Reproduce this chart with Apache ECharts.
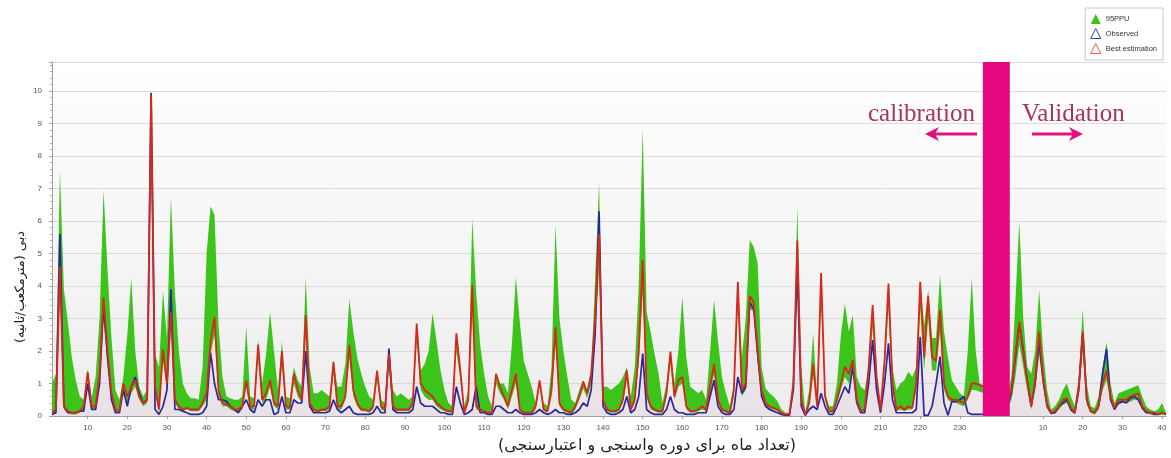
<!DOCTYPE html>
<html>
<head>
<meta charset="utf-8">
<script src="https://cdn.jsdelivr.net/npm/echarts@6/dist/echarts.min.js"></script>
<style>
  html, body { margin: 0; padding: 0; background: #ffffff; }
  #chart { width: 1171px; height: 458px; }
</style>
</head>
<body>
<div id="chart"></div>
<script>
// Monthly discharge (m3/s), calibration period: months 1..236
const calibUpper = [
  1.0, 1.3, 7.55, 3.9, 2.9, 1.8, 1.1, 0.6, 0.5, 1.45,
  0.55, 1.2, 3.0, 6.95, 4.5, 2.4, 0.8, 0.5, 1.2, 2.5,
  4.25, 2.0, 0.9, 0.6, 0.8, 9.95, 1.9, 1.5, 3.85, 2.4,
  6.75, 3.8, 2.0, 1.0, 0.7, 0.55, 0.55, 0.5, 1.5, 5.0,
  6.45, 6.2, 2.8, 1.2, 0.6, 0.55, 0.5, 0.5, 0.6, 2.75,
  0.6, 0.55, 2.35, 1.0, 1.9, 3.2, 2.0, 0.8, 2.3, 0.6,
  0.55, 1.5, 1.1, 0.9, 4.25, 1.5, 0.7, 0.7, 0.8, 0.7,
  0.6, 1.7, 0.9, 0.9, 1.6, 3.6, 2.6, 1.8, 1.3, 0.9,
  0.6, 0.5, 1.4, 0.5, 0.4, 2.1, 0.8, 0.6, 0.7, 0.6,
  0.5, 0.6, 2.85, 1.4, 1.6, 2.0, 3.16, 2.3, 1.4, 0.8,
  0.4, 0.3, 2.55, 1.4, 0.3, 0.8, 6.08, 3.8, 2.2, 1.3,
  0.6, 0.3, 1.3, 1.0, 1.0, 0.7, 2.2, 4.28, 2.9, 1.7,
  1.3, 0.9, 0.4, 1.1, 0.4, 0.3, 1.5, 5.88, 3.0, 2.0,
  1.2, 0.5, 0.4, 0.8, 1.1, 0.8, 1.4, 4.2, 7.2, 0.9,
  0.9, 0.8, 0.9, 1.0, 1.2, 1.5, 0.6, 1.5, 4.0, 8.85,
  3.2, 2.6, 1.9, 1.3, 0.4, 1.0, 2.0, 1.0, 2.0, 3.67,
  1.8, 0.9, 0.8, 0.7, 0.8, 0.5, 2.0, 3.57, 2.3, 1.2,
  0.7, 0.3, 1.0, 4.13, 1.8, 3.0, 5.42, 5.2, 4.7, 1.5,
  0.85, 0.7, 0.6, 0.45, 0.2, 0.1, 0.1, 1.2, 6.44, 1.5,
  0.1, 0.8, 2.55, 0.5, 4.4, 0.7, 0.3, 0.3, 1.0, 2.5,
  3.46, 2.6, 3.1, 1.2, 0.9, 0.8, 1.5, 3.42, 1.3, 0.3,
  1.8, 4.1, 1.5, 0.8, 1.0, 1.1, 1.36, 1.2, 1.5, 4.13,
  2.8, 3.88, 2.4, 2.4, 4.34, 2.6, 1.8, 1.1, 0.9, 0.7,
  0.6, 2.0, 4.24, 2.0, 1.0, 0.95
];
const calibLower = [
  0.05, 0.1, 3.8, 0.2, 0.1, 0.05, 0.05, 0.1, 0.2, 1.1,
  0.2, 0.2, 1.0, 3.0, 1.6, 0.5, 0.1, 0.1, 0.8, 0.4,
  0.7, 0.9, 0.5, 0.3, 0.4, 8.2, 0.7, 0.1, 1.7, 0.8,
  2.7, 0.4, 0.2, 0.15, 0.2, 0.15, 0.15, 0.15, 0.3, 0.5,
  1.9, 2.5, 0.6, 0.3, 0.3, 0.2, 0.15, 0.15, 0.2, 0.9,
  0.2, 0.2, 1.8, 0.4, 0.5, 0.9, 0.3, 0.2, 1.6, 0.2,
  0.2, 1.0, 0.6, 0.4, 2.5, 0.3, 0.15, 0.1, 0.15, 0.15,
  0.2, 1.3, 0.2, 0.2, 0.5, 1.8, 0.6, 0.3, 0.15, 0.15,
  0.1, 0.2, 1.1, 0.2, 0.15, 1.5, 0.2, 0.15, 0.15, 0.15,
  0.15, 0.3, 2.3, 0.8, 0.6, 0.5, 0.5, 0.3, 0.2, 0.15,
  0.1, 0.1, 2.0, 1.1, 0.05, 0.4, 3.2, 0.2, 0.15, 0.1,
  0.05, 0.05, 1.0, 0.7, 0.5, 0.2, 0.6, 1.0, 0.15, 0.05,
  0.05, 0.05, 0.2, 0.9, 0.15, 0.1, 0.6, 2.2, 0.3, 0.15,
  0.1, 0.05, 0.2, 0.5, 0.85, 0.55, 1.0, 2.4, 4.5, 0.4,
  0.15, 0.1, 0.1, 0.15, 0.4, 1.1, 0.15, 0.4, 1.6, 3.8,
  0.55, 0.2, 0.15, 0.1, 0.1, 0.55, 1.6, 0.5, 0.9, 1.0,
  0.2, 0.1, 0.1, 0.15, 0.2, 0.15, 0.7, 1.3, 0.4, 0.15,
  0.1, 0.05, 0.6, 3.3, 0.6, 0.8, 3.3, 3.2, 1.6, 0.6,
  0.3, 0.2, 0.2, 0.15, 0.05, 0.02, 0.02, 0.8, 4.3, 0.4,
  0.02, 0.3, 1.3, 0.2, 3.5, 0.5, 0.1, 0.1, 0.4, 0.8,
  1.2, 1.0, 1.4, 0.4, 0.1, 0.15, 1.2, 2.7, 1.0, 0.15,
  1.4, 3.3, 0.8, 0.15, 0.2, 0.15, 0.2, 0.2, 0.8, 3.3,
  1.4, 3.0, 1.4, 1.4, 2.6, 0.8, 0.5, 0.4, 0.4, 0.35,
  0.3, 0.5, 0.8, 0.8, 0.75, 0.7
];
const calibObserved = [
  0.05, 0.1, 5.6, 0.3, 0.1, 0.1, 0.1, 0.15, 0.15, 1.0,
  0.2, 0.2, 1.0, 3.4, 1.8, 0.5, 0.1, 0.1, 0.8, 0.3,
  0.9, 1.2, 0.7, 0.4, 0.5, 9.95, 0.2, 0.05, 0.3, 0.8,
  3.9, 0.2, 0.2, 0.15, 0.1, 0.05, 0.05, 0.05, 0.1, 0.3,
  1.95, 1.0, 0.5, 0.5, 0.45, 0.3, 0.2, 0.1, 0.3, 0.5,
  0.2, 0.1, 0.5, 0.3, 0.5, 0.5, 0.05, 0.1, 0.6, 0.1,
  0.1, 0.5, 0.4, 0.4, 2.0, 0.3, 0.1, 0.1, 0.1, 0.1,
  0.15, 0.5, 0.2, 0.1, 0.2, 0.3, 0.1, 0.05, 0.05, 0.05,
  0.05, 0.1, 0.3, 0.1, 0.1, 2.08, 0.2, 0.1, 0.1, 0.1,
  0.1, 0.2, 0.9, 0.4, 0.3, 0.3, 0.3, 0.2, 0.1, 0.1,
  0.05, 0.05, 0.9, 0.4, 0.05, 0.1, 0.2, 0.9, 0.1, 0.1,
  0.05, 0.05, 0.3, 0.3, 0.2, 0.1, 0.1, 0.2, 0.1, 0.05,
  0.05, 0.05, 0.1, 0.2, 0.1, 0.05, 0.1, 0.2, 0.1, 0.1,
  0.05, 0.05, 0.1, 0.2, 0.4, 0.3, 0.8, 2.5, 6.3, 0.3,
  0.1, 0.05, 0.05, 0.1, 0.2, 0.6, 0.1, 0.2, 0.6, 1.92,
  0.2, 0.1, 0.05, 0.05, 0.05, 0.2, 0.6, 0.2, 0.1, 0.1,
  0.05, 0.05, 0.05, 0.1, 0.1, 0.1, 0.6, 1.1, 0.3, 0.1,
  0.05, 0.05, 0.2, 1.2, 0.7, 0.9, 3.5, 3.3, 1.9, 0.6,
  0.3, 0.2, 0.15, 0.1, 0.05, 0.02, 0.02, 0.8, 4.6, 0.3,
  0.02, 0.2, 0.3, 0.2, 0.7, 0.3, 0.05, 0.05, 0.3, 0.6,
  0.9, 0.7, 1.52, 0.4, 0.1, 0.1, 1.0, 2.34, 0.8, 0.1,
  1.0, 2.24, 0.5, 0.1, 0.1, 0.1, 0.1, 0.1, 0.2, 2.44,
  0.02, 0.02, 0.3, 1.0, 1.83, 0.4, 0.02, 0.45, 0.45, 0.5,
  0.6, 0.1, 0.05, 0.05, 0.05, 0.05
];
const calibBest = [
  0.1, 0.2, 4.6, 0.3, 0.15, 0.1, 0.1, 0.15, 0.3, 1.35,
  0.3, 0.3, 1.3, 3.65, 2.0, 0.7, 0.2, 0.15, 1.0, 0.6,
  0.9, 1.1, 0.6, 0.4, 0.5, 9.9, 0.9, 0.2, 2.05, 1.0,
  3.2, 0.5, 0.3, 0.2, 0.25, 0.2, 0.2, 0.2, 0.4, 0.7,
  2.3, 3.05, 0.8, 0.4, 0.35, 0.3, 0.2, 0.2, 0.3, 1.1,
  0.3, 0.3, 2.2, 0.5, 0.7, 1.1, 0.4, 0.3, 2.0, 0.3,
  0.25, 1.3, 0.8, 0.5, 3.1, 0.4, 0.2, 0.15, 0.2, 0.2,
  0.3, 1.67, 0.3, 0.3, 0.6, 2.2, 0.8, 0.4, 0.2, 0.2,
  0.15, 0.3, 1.4, 0.3, 0.2, 1.9, 0.3, 0.2, 0.2, 0.2,
  0.2, 0.4, 2.85, 1.0, 0.8, 0.7, 0.6, 0.4, 0.3, 0.2,
  0.15, 0.15, 2.55, 1.4, 0.1, 0.5, 4.03, 0.3, 0.2, 0.15,
  0.1, 0.1, 1.3, 0.9, 0.6, 0.3, 0.8, 1.3, 0.2, 0.1,
  0.1, 0.1, 0.3, 1.1, 0.2, 0.15, 0.8, 2.74, 0.4, 0.2,
  0.15, 0.1, 0.3, 0.6, 1.06, 0.7, 1.3, 3.0, 5.6, 0.5,
  0.2, 0.15, 0.15, 0.2, 0.5, 1.4, 0.2, 0.5, 2.0, 4.8,
  0.7, 0.3, 0.2, 0.15, 0.15, 0.7, 1.98, 0.6, 1.1, 1.2,
  0.3, 0.15, 0.15, 0.2, 0.3, 0.2, 0.9, 1.6, 0.5, 0.2,
  0.15, 0.1, 0.8, 4.13, 0.8, 1.0, 3.7, 3.5, 2.0, 0.8,
  0.4, 0.3, 0.25, 0.2, 0.1, 0.05, 0.05, 1.0, 5.4, 0.5,
  0.05, 0.4, 1.6, 0.3, 4.4, 0.6, 0.15, 0.15, 0.5, 1.0,
  1.52, 1.3, 1.72, 0.5, 0.15, 0.2, 1.5, 3.42, 1.2, 0.18,
  1.7, 4.08, 1.0, 0.2, 0.3, 0.2, 0.3, 0.25, 1.0, 4.13,
  1.8, 3.7, 1.8, 1.7, 3.26, 1.0, 0.6, 0.5, 0.5, 0.45,
  0.4, 0.6, 1.0, 1.0, 0.95, 0.9
];

// Validation period: months 1..41
const validUpper = [
  0.6, 1.2, 3.5, 5.98, 3.0, 1.5, 1.3, 2.0, 3.88, 2.0,
  0.8, 0.2, 0.3, 0.5, 0.8, 1.0, 0.6, 0.3, 1.2, 3.3,
  1.0, 0.3, 0.25, 0.6, 1.5, 2.28, 1.0, 0.4, 0.7, 0.75,
  0.8, 0.85, 0.9, 0.95, 0.6, 0.3, 0.2, 0.15, 0.2, 0.4,
  0.1
];
const validLower = [
  0.2, 0.5, 1.2, 2.2, 1.5, 0.8, 0.2, 0.8, 1.9, 0.9,
  0.25, 0.05, 0.1, 0.2, 0.35, 0.4, 0.15, 0.05, 0.7, 2.0,
  0.35, 0.1, 0.05, 0.2, 0.8, 1.1, 0.45, 0.2, 0.35, 0.4,
  0.4, 0.45, 0.5, 0.5, 0.2, 0.1, 0.05, 0.05, 0.03, 0.05,
  0.02
];
const validObserved = [
  0.3, 0.7, 1.8, 2.85, 2.0, 1.1, 0.3, 1.0, 2.3, 1.1,
  0.3, 0.08, 0.1, 0.3, 0.4, 0.5, 0.2, 0.1, 0.8, 2.55,
  0.5, 0.15, 0.1, 0.3, 1.3, 2.07, 0.5, 0.2, 0.4, 0.45,
  0.4, 0.55, 0.6, 0.5, 0.25, 0.1, 0.1, 0.05, 0.05, 0.1,
  0.05
];
const validBest = [
  0.4, 0.8, 1.9, 2.9, 2.0, 1.1, 0.3, 1.1, 2.6, 1.2,
  0.35, 0.1, 0.15, 0.3, 0.5, 0.55, 0.25, 0.1, 0.9, 2.6,
  0.5, 0.15, 0.1, 0.3, 1.0, 1.4, 0.6, 0.25, 0.5, 0.5,
  0.5, 0.6, 0.65, 0.7, 0.3, 0.15, 0.1, 0.1, 0.05, 0.1,
  0.05
];

// Axis tick labels for each period
const calibTicks = [10, 20, 30, 40, 50, 60, 70, 80, 90, 100, 110, 120,
                    130, 140, 150, 160, 170, 180, 190, 200, 210, 220, 230];
const validTicks = [10, 20, 30, 40];

// Both periods share one axis; validation month v sits at slot VAL_OFFSET + v
const VAL_OFFSET = 241;
const SLOT_COUNT = VAL_OFFSET + validUpper.length;     // 282 monthly slots
const DIVIDER = [[235.8, 242.6]];                       // separator band, in slot units

const slots = [];
for (let s = 1; s <= SLOT_COUNT; s++) slots.push(String(s));

function toSlots(cal, val) {
  const out = cal.slice();
  while (out.length < VAL_OFFSET) out.push('-');
  return out.concat(val);
}
function bandWidth(up, low) {
  return up.map((u, i) => Math.max(0, +(u - low[i]).toFixed(3)));
}

const lowSeries = toSlots(calibLower, validLower);
const bandSeries = toSlots(bandWidth(calibUpper, calibLower), bandWidth(validUpper, validLower));
const obsSeries = toSlots(calibObserved, validObserved);
const bestSeries = toSlots(calibBest, validBest);

const tickSlots = new Set(calibTicks.concat(validTicks.map(v => v + VAL_OFFSET)));
const showSlot = (index) => tickSlots.has(index + 1);

const GREEN = '#3cc41a';
const BLUE = '#26269e';
const RED = '#d8281c';
const PINK = '#e6087f';
const AXIS = '#a79f97';

const chart = echarts.init(document.getElementById('chart'), null, { renderer: 'canvas' });

chart.setOption({
  animation: false,
  backgroundColor: '#ffffff',
  grid: {
    left: 52, right: 5, top: 62, bottom: 42,
    show: true,
    borderWidth: 0,
    backgroundColor: {
      type: 'linear', x: 0, y: 0, x2: 0, y2: 1,
      colorStops: [{ offset: 0, color: '#ffffff' }, { offset: 1, color: '#ededed' }]
    }
  },
  legend: {
    orient: 'vertical',
    right: 8, top: 8,
    itemWidth: 10, itemHeight: 10, itemGap: 4,
    padding: [6, 6, 6, 5],
    borderColor: '#c9c9c9', borderWidth: 1,
    backgroundColor: '#ffffff',
    textStyle: { fontSize: 7.5, color: '#333', fontFamily: 'Liberation Sans' },
    data: [
      { name: '95PPU', icon: 'triangle', itemStyle: { color: GREEN } },
      { name: 'Observed', icon: 'triangle', itemStyle: { color: 'rgba(0,0,0,0)', borderColor: '#3a3ab0', borderWidth: 1 } },
      { name: 'Best estimation', icon: 'triangle', itemStyle: { color: 'rgba(0,0,0,0)', borderColor: '#e06055', borderWidth: 1 } }
    ]
  },
  xAxis: [
    {
      type: 'category',
      data: slots,
      boundaryGap: false,
      axisLine: { show: true, lineStyle: { color: AXIS } },
      axisTick: { show: true, interval: showSlot, length: 3, lineStyle: { color: AXIS } },
      axisLabel: {
        interval: showSlot,
        fontSize: 8, color: '#555', fontFamily: 'Liberation Sans', margin: 8,
        formatter: v => { const s = +v; return String(s > VAL_OFFSET ? s - VAL_OFFSET : s); }
      },
      splitLine: { show: false }
    },
    {
      // numeric twin of the slot axis, used to place the separator band
      type: 'value', min: 1, max: SLOT_COUNT, show: false
    }
  ],
  yAxis: {
    type: 'value',
    min: 0, max: 10.9, interval: 1,
    axisLine: { show: true, lineStyle: { color: AXIS } },
    axisTick: { show: true, length: 3, lineStyle: { color: AXIS } },
    minorTick: { show: true, splitNumber: 5, length: 2, lineStyle: { color: '#b8b0a8' } },
    axisLabel: { fontSize: 8, color: '#555', fontFamily: 'Liberation Sans', margin: 10, showMaxLabel: false },
    splitLine: { lineStyle: { color: '#dadada', width: 1 } }
  },
  graphic: [
    {
      type: 'text', x: 21, y: 287, rotation: Math.PI / 2,
      style: {
        text: '\u200Fدبی (مترمکعب/ثانیه)\u200F',
        fontSize: 13, fontFamily: 'DejaVu Sans', fill: '#222',
        align: 'center', verticalAlign: 'middle'
      }
    },
    {
      type: 'text', x: 647, y: 446,
      style: {
        text: '\u200F(تعداد ماه برای دوره واسنجی و اعتبارسنجی)\u200F',
        fontSize: 16, fontFamily: 'DejaVu Sans', fill: '#222',
        align: 'center', verticalAlign: 'middle'
      }
    },
    {
      type: 'text', x: 868, y: 114, z: 20,
      style: { text: 'calibration', fontSize: 25, fontFamily: 'Liberation Serif', fill: '#ab3358', align: 'left', verticalAlign: 'middle' }
    },
    {
      type: 'text', x: 1022, y: 114, z: 20,
      style: { text: 'Validation', fontSize: 25, fontFamily: 'Liberation Serif', fill: '#ab3358', align: 'left', verticalAlign: 'middle' }
    },
    {
      type: 'polyline', z: 20,
      shape: { points: [[934, 134], [977, 134]] },
      style: { stroke: '#e2127c', lineWidth: 3 }
    },
    {
      type: 'polygon', z: 20,
      shape: { points: [[925, 134], [939, 127], [935, 134], [939, 141]] },
      style: { fill: '#e2127c' }
    },
    {
      type: 'polyline', z: 20,
      shape: { points: [[1032, 134], [1074, 134]] },
      style: { stroke: '#e2127c', lineWidth: 3 }
    },
    {
      type: 'polygon', z: 20,
      shape: { points: [[1083, 134], [1069, 127], [1073, 134], [1069, 141]] },
      style: { fill: '#e2127c' }
    }
  ],
  series: [
    {
      name: 'ppuLow', type: 'line', stack: 'ppu', data: lowSeries,
      symbol: 'none', silent: true, z: 2,
      lineStyle: { opacity: 0 }
    },
    {
      name: '95PPU', type: 'line', stack: 'ppu', data: bandSeries,
      symbol: 'none', silent: true, z: 2,
      itemStyle: { color: GREEN },
      lineStyle: { opacity: 0 },
      areaStyle: { color: GREEN, opacity: 1 }
    },
    {
      name: 'Observed', type: 'line', data: obsSeries,
      symbol: 'none', z: 3,
      itemStyle: { color: BLUE },
      lineStyle: { color: BLUE, width: 1.7 },
      areaStyle: { color: 'rgba(110,110,255,0.05)' }
    },
    {
      name: 'Best estimation', type: 'line', data: bestSeries,
      symbol: 'none', z: 4,
      itemStyle: { color: RED },
      lineStyle: { color: RED, width: 1.8 },
      areaStyle: { color: 'rgba(255,90,90,0.05)' }
    },
    {
      name: 'divider', type: 'custom', xAxisIndex: 1, yAxisIndex: 0,
      z: 10, silent: true,
      data: DIVIDER,
      encode: { x: [0, 1] },
      renderItem: (params, api) => {
        const x0 = api.coord([api.value(0), 0])[0];
        const x1 = api.coord([api.value(1), 0])[0];
        const cs = params.coordSys;
        return {
          type: 'rect',
          shape: { x: x0, y: cs.y, width: x1 - x0, height: cs.height },
          style: { fill: PINK }
        };
      }
    }
  ]
});
</script>
</body>
</html>
